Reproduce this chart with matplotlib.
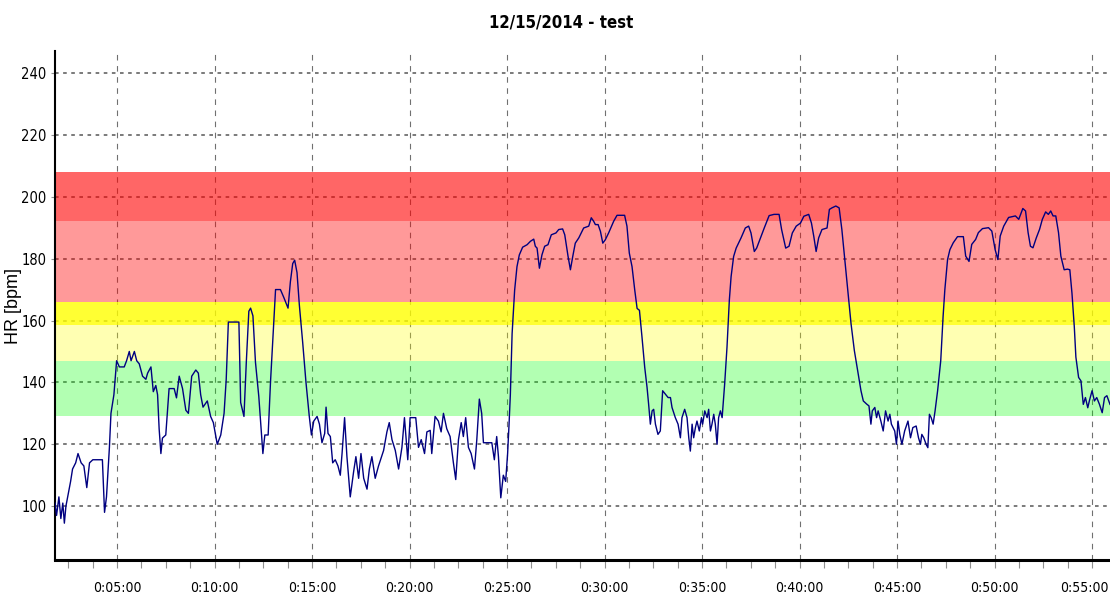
import matplotlib
matplotlib.use("Agg")
import matplotlib.pyplot as plt
from matplotlib.ticker import MultipleLocator, FuncFormatter
from matplotlib.transforms import ScaledTranslation

# heart rate trace, time in minutes from start, HR in bpm
minutes = [
    1.82, 1.90, 2.02, 2.12, 2.22, 2.30, 2.38, 2.50, 2.62, 2.72, 2.88, 3.00, 3.16, 3.30,
    3.45, 3.59, 3.76, 4.25, 4.36, 4.46, 4.61, 4.69, 4.84, 4.98, 5.12, 5.37, 5.49, 5.63,
    5.72, 5.89, 6.01, 6.14, 6.31, 6.48, 6.57, 6.74, 6.86, 6.99, 7.08, 7.16, 7.25, 7.33,
    7.50, 7.67, 7.93, 8.05, 8.19, 8.36, 8.53, 8.66, 8.83, 9.04, 9.17, 9.29, 9.41, 9.63,
    9.80, 9.94, 10.14, 10.32, 10.49, 10.60, 10.71, 11.25, 11.34, 11.51, 11.63, 11.76,
    11.85, 11.97, 12.10, 12.27, 12.48, 12.58, 12.75, 12.87, 12.99, 13.13, 13.38, 13.55,
    13.77, 13.89, 14.01, 14.11, 14.23, 14.35, 14.52, 14.69, 14.86, 14.97,
    15.09, 15.26, 15.38, 15.51, 15.65, 15.72, 15.82, 15.94, 16.06, 16.19, 16.33, 16.45,
    16.54, 16.67, 16.79, 16.96, 17.13, 17.25, 17.39, 17.51, 17.65, 17.82, 17.94, 18.07,
    18.24, 18.41, 18.67, 18.84, 18.96, 19.10, 19.27, 19.44, 19.61, 19.74, 19.91, 20.03,
    20.32, 20.46, 20.60, 20.77, 20.89, 21.06, 21.14, 21.31, 21.48, 21.62, 21.74, 21.91,
    22.08, 22.25, 22.37, 22.51, 22.65, 22.76, 22.88, 23.02, 23.16, 23.33, 23.45, 23.58,
    23.70, 23.79, 24.22, 24.35, 24.47, 24.56, 24.68, 24.81, 24.93, 25.03, 25.10,
    25.17, 25.26, 25.39, 25.51, 25.63, 25.80, 26.03, 26.20, 26.37, 26.45, 26.54, 26.66,
    26.79, 26.93, 27.10, 27.27, 27.51, 27.65, 27.85, 27.96, 28.13, 28.25, 28.37, 28.50,
    28.68, 28.93, 29.19, 29.32, 29.44, 29.53, 29.67, 29.79, 29.91, 30.04, 30.21, 30.47,
    30.64, 31.03, 31.15, 31.27, 31.41, 31.55, 31.67, 31.79, 31.92, 32.06, 32.18, 32.26,
    32.35, 32.44, 32.52, 32.61, 32.74, 32.86, 32.98, 33.12, 33.26, 33.38, 33.46, 33.63,
    33.77, 33.89, 33.97, 34.11, 34.23, 34.32, 34.40, 34.49, 34.57, 34.66, 34.74, 34.86,
    34.97, 35.03, 35.14, 35.26, 35.34, 35.43, 35.51, 35.60, 35.68, 35.77, 35.85, 35.94,
    36.03, 36.16, 36.28, 36.40, 36.49, 36.62,
    36.75, 37.00, 37.22, 37.39, 37.51, 37.68, 37.80, 37.93, 38.19, 38.44, 38.69, 38.95,
    39.08, 39.29, 39.46, 39.63, 39.83, 40.05, 40.22, 40.47, 40.61, 40.73, 40.85, 40.98,
    41.15, 41.41, 41.53, 41.66, 41.86, 42.03, 42.17, 42.34, 42.47, 42.64, 42.81, 42.98,
    43.15, 43.27, 43.44, 43.56, 43.66, 43.73, 43.86, 43.95, 44.03, 44.17, 44.29, 44.41,
    44.54, 44.63, 44.71, 44.88, 44.97, 45.05, 45.14, 45.25, 45.39, 45.56, 45.69, 45.81,
    45.98, 46.10, 46.20, 46.27, 46.37, 46.49, 46.58, 46.66, 46.75, 46.85, 46.95, 47.08,
    47.24, 47.36, 47.45, 47.59, 47.71, 47.88, 48.10, 48.40, 48.52, 48.69, 48.83, 49.03,
    49.17, 49.38, 49.69, 49.86, 50.03, 50.17, 50.29, 50.47, 50.72, 51.07, 51.24, 51.45,
    51.59, 51.72, 51.84, 51.97, 52.14, 52.31, 52.45, 52.62, 52.76, 52.88, 53.00, 53.14,
    53.28, 53.40, 53.57, 53.74, 53.86, 53.97, 54.09, 54.17, 54.31, 54.43, 54.55, 54.66,
    54.78, 54.86, 55.00, 55.12, 55.24, 55.38, 55.52, 55.64, 55.76, 55.92,
]
hr = [
    101, 97, 103, 96, 101, 94.5, 100, 104, 108, 112, 114, 117, 114, 113,
    106, 114, 115, 115, 98, 103, 119, 130, 136, 147, 145, 145, 147, 150,
    147, 150, 147, 146, 142, 141, 143, 145, 137, 139, 136, 125, 117, 122,
    123, 138, 138, 135, 142, 138, 131, 130, 142, 144, 143, 136, 132, 134,
    129, 127, 120, 123, 130, 141, 159.5, 159.5, 133.5, 129, 146.5, 163,
    164, 161.5, 146.5, 135.5, 117, 123, 123, 140, 154, 170, 170, 167.5,
    164, 172.5, 178.4, 179.5, 175.5, 165, 153, 140, 129, 123,
    127.5, 129, 126.5, 120.5, 123.5, 132, 123.5, 122.5, 114, 115, 113, 110,
    117, 128.6, 116, 103, 111, 116, 109, 117, 109, 105.5, 112, 116,
    109, 113, 118, 124, 127, 121.5, 118, 112, 119, 128.6, 115, 128.6,
    128.6, 119, 121.5, 117, 124, 124.5, 117, 129, 127.5, 124, 130, 125,
    122.5, 114, 108.6, 121.5, 127, 122.5, 128.6, 119, 117, 112, 121.5, 134.6,
    130, 120.5, 120.5, 115, 122.5, 116, 102.7, 110, 108, 117, 126,
    136, 155.7, 169.8, 177.4, 181.2, 183.7, 184.5, 185.6, 186.3, 184, 183.4, 176.9,
    181.2, 184, 184.5, 187.7, 188.3, 189.4, 189.6, 187.7, 180.7, 176.4, 180.7, 185,
    186.7, 189.9, 190.5, 193.2, 192.1, 191, 191, 188.8, 185, 186.1, 188.3, 192.1,
    194, 194, 190.5, 181.8, 177.4, 169.8, 163.9, 163.3, 154.7, 144.9, 138.4, 133,
    126.5, 130.8, 131.3, 126.5, 123.2, 124.3, 137.3, 136.2, 135.1, 135.1, 131.9, 128.6,
    126.5, 122.1, 128.6, 131.3, 128.6, 122.1, 117.8, 126.5, 122.1, 125.4, 127.5, 124.3,
    128.6, 126.5, 130.8, 128.6, 131.3, 124.3, 126.5, 129.7, 126.5, 120, 128.6, 130.8,
    128.6, 139.5, 151.4, 166.6, 174.2, 180.7,
    183.4, 186.7, 189.9, 190.5, 188.3, 182.3, 183.4, 185.6, 189.9, 193.9, 194.3, 194.3,
    189.4, 183.4, 184, 188.3, 190.5, 191.5, 193.7, 194.3, 191.5, 187.2, 182.3, 186.7,
    189.4, 189.9, 195.9, 196.4, 197, 196.4, 189.4, 178.5, 169.8, 159, 150.3, 143.8,
    137.3, 134, 133, 132.4, 126.5, 130.8, 131.9, 128.6, 130.8, 127.5, 124.3, 130.8,
    127.5, 129.7, 126.5, 124.3, 120, 127.5, 123.2, 120, 124.3, 127.5, 122.1, 125.4,
    125.9, 122.1, 120, 123.2, 122.1, 120, 118.9, 129.7, 128.6, 126.5, 130.8, 137.3,
    147, 161.2, 169.9, 179.7, 182.9, 185.1, 187.1, 187.1, 180.8, 179.1, 184.6, 186.2,
    188.4, 189.7, 190, 188.9, 182.9, 179.7, 187.3, 190.5, 193.3, 193.8, 192.7, 196.2,
    195.4, 188.4, 184, 183.5, 186.7, 189.5, 192.7, 195.1, 194.3, 195.4, 193.8, 193.8,
    188.4, 180.8, 176.4, 176.6, 176.4, 168.8, 157.9, 148.2, 141.6, 140.5, 132.9, 135.1,
    131.8, 134, 137.3, 134, 135.1, 132.9, 130.2, 135.1, 135.7, 132.9,
]

# heart rate zones (bpm)
zone_low = [129, 147, 158.5, 166, 192]
zone_high = [147, 158.5, 166, 192, 208]
zone_colors = ["#00ff00", "#ffff00", "#ffff00", "#ff0000", "#ff0000"]
zone_alpha = [0.3, 0.3, 0.8, 0.4, 0.6]

title = "12/15/2014 - test"
# narrow faces first, whichever is installed wins
narrow = ["Liberation Sans Narrow", "Noto Sans Condensed", "DejaVu Sans Condensed",
          "DejaVu Sans"]


def hms(m, pos):
    s = int(round(m * 60))
    return f"{s // 3600}:{s % 3600 // 60:02d}:{s % 60:02d}"


fig = plt.figure(figsize=(11.1, 6.12), dpi=100)
ax = fig.add_axes([55 / 1110, 1 - 560 / 612, 1 - 55 / 1110, (560 - 51) / 612])

for lo, hi, c, a in zip(zone_low, zone_high, zone_colors, zone_alpha):
    ax.axhspan(lo, hi, color=c, alpha=a, lw=0, zorder=1)

ax.plot(minutes, hr, color="#000080", lw=1.0, zorder=3)

ax.set_xlim(1.82, 55.92)
ax.set_ylim(82.6, 247.1)

ax.xaxis.set_major_locator(MultipleLocator(5))
ax.xaxis.set_minor_locator(MultipleLocator(1.25))
ax.xaxis.set_major_formatter(FuncFormatter(hms))
ax.yaxis.set_major_locator(MultipleLocator(20))

ax.set_axisbelow(True)
ax.grid(axis="x", color="#707070", ls=(0, (5, 5)), lw=0.8)
ax.grid(axis="y", color="#707070", ls=(0, (2, 2.5)), lw=1.3)

for s in ["top", "right"]:
    ax.spines[s].set_visible(False)
ax.spines["left"].set_linewidth(1.5)
ax.spines["bottom"].set_linewidth(2.2)

ax.tick_params(axis="x", which="both", direction="out", length=6, width=0.8,
               color="#909090", pad=9, labelsize=10)
ax.tick_params(axis="y", direction="out", length=3, width=0.8,
               color="#909090", pad=3, labelsize=10.5)
for lab in ax.get_xticklabels() + ax.get_yticklabels():
    lab.set_family(narrow)
    lab.set_stretch("condensed")

# the last time label sits at the right edge, nudge it inside
for tick in ax.xaxis.get_major_ticks():
    if abs(tick.get_loc() - 55) < 1e-6:
        lbl = tick.label1
        lbl.set_transform(lbl.get_transform() +
                          ScaledTranslation(-0.08, 0, fig.dpi_scale_trans))

ax.set_ylabel("HR [bpm]", fontsize=13, family=["Liberation Sans", "DejaVu Sans"])
ax.yaxis.set_label_coords(-0.031, 0.5)

fig.text(0.506, 0.964, title, ha="center", va="center", fontsize=12,
         fontweight="bold", family=narrow, stretch="condensed")

fig.savefig("out.png", dpi=100)
